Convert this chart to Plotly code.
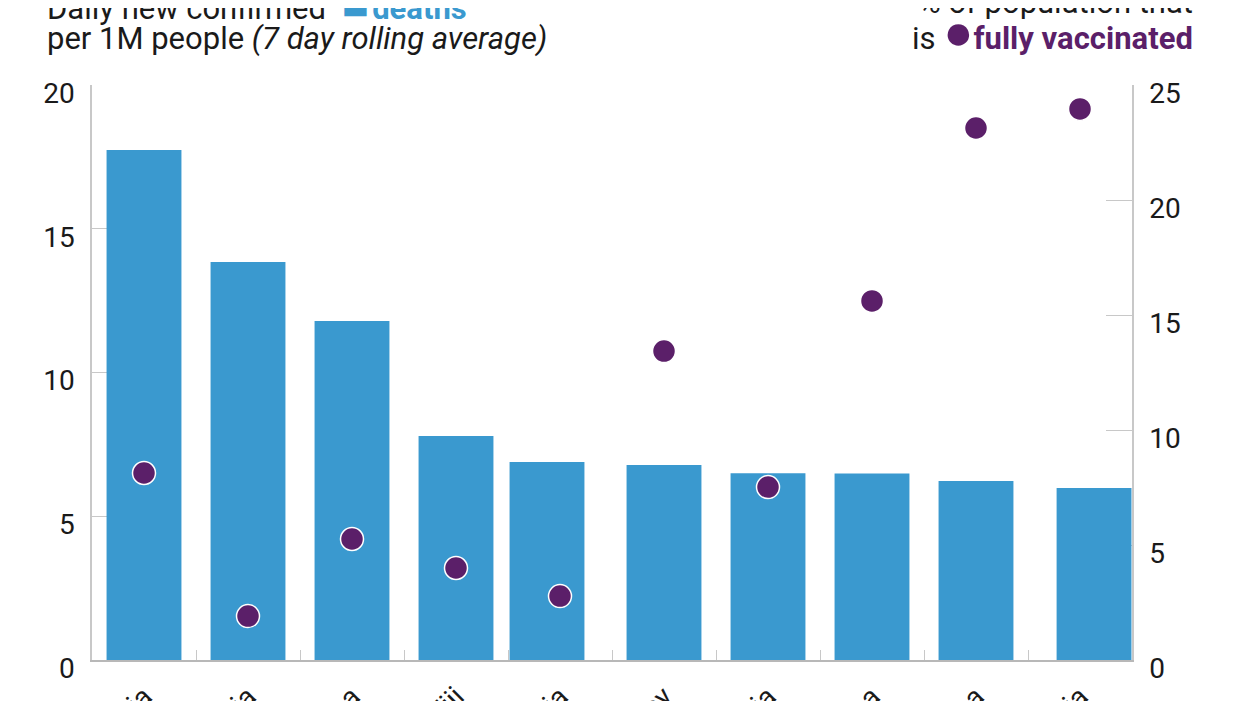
import plotly.graph_objects as go

# Values
countries = ["Tunisia", "Namibia", "Botswana", "Fiji", "Georgia",
             "Paraguay", "Indonesia", "Argentina", "Cuba", "Malaysia"]
deaths_per_million = [17.74, 13.84, 11.79, 7.79, 6.89, 6.78, 6.50, 6.49, 6.23, 5.98]
fully_vaccinated_pct = [8.13, 1.91, 5.26, 4.0, 2.78, 13.43, 7.52, 15.61, 23.13, 23.96]

BLUE = "#3a99cf"
PURPLE = "#5b1f69"
AXIS_GREY = "#c8c8c8"
FONT = "Roboto, 'Open Sans', sans-serif"

# bars 5 and 10 sit slightly off their category centre in the original
bar_width = 0.72
bar_offset = [-bar_width / 2] * len(countries)
bar_offset[4] -= 0.125
bar_offset[9] += 0.135

fig = go.Figure()

fig.add_trace(go.Bar(
    x=countries,
    y=deaths_per_million,
    width=bar_width,
    offset=bar_offset,
    marker=dict(color=BLUE, line=dict(width=0)),
    name="deaths",
))

fig.add_trace(go.Scatter(
    x=countries,
    y=fully_vaccinated_pct,
    yaxis="y2",
    mode="markers",
    marker=dict(color=PURPLE, size=23, line=dict(color="white", width=1.5)),
    name="fully vaccinated",
))

# the page body adds an 8px margin, so the plot box is shifted up/left by 8
fig.update_layout(
    width=1245,
    height=701,
    plot_bgcolor="white",
    paper_bgcolor="white",
    showlegend=False,
    font=dict(family=FONT, size=28, color="#1a1a1a"),
    margin=dict(l=84, r=121, t=77, b=49),
    xaxis=dict(
        type="category",
        range=[-0.5, len(countries) - 0.5],
        automargin=False,
        showgrid=False,
        showline=True,
        linecolor="#b8b8b8",
        linewidth=2,
        ticks="inside",
        tickson="boundaries",
        ticklen=10,
        tickcolor=AXIS_GREY,
        tickangle=-45,
        ticklabelstandoff=7,
        tickfont=dict(size=28),
        layer="below traces",
    ),
    yaxis=dict(
        range=[0, 20],
        dtick=5,
        automargin=False,
        showgrid=False,
        zeroline=False,
        showline=True,
        linecolor=AXIS_GREY,
        linewidth=1.5,
        ticks="inside",
        ticklen=27,
        tickcolor=AXIS_GREY,
        ticklabelstandoff=10,
        ticklabelshift=8,
        layer="below traces",
    ),
    yaxis2=dict(
        range=[0, 25],
        dtick=5,
        overlaying="y",
        side="right",
        automargin=False,
        showgrid=False,
        zeroline=False,
        showline=True,
        linecolor=AXIS_GREY,
        linewidth=1.5,
        ticks="inside",
        ticklen=26,
        tickcolor=AXIS_GREY,
        ticklabelstandoff=10,
        ticklabelshift=8,
        layer="below traces",
    ),
    bargap=0.28,
)

# Header texts, one annotation per line
left_x = (45 - 92) / 1040
right_x = (1195 - 92) / 1040


def py(px):
    """page pixel row -> paper y"""
    return 1 + (85 - px) / 575


header = [
    (left_x, py(3), "left",
     "Daily new confirmed  <span style='color:%s;font-size:46px'>■</span>"
     "<span style='font-size:12px'> </span>"
     "<b><span style='color:%s'>deaths</span></b>" % (BLUE, BLUE)),
    (left_x, py(39), "left", "per 1M people <i>(7 day rolling average)</i>"),
    (right_x, py(2), "right", "% of population that"),
    (right_x, py(32), "right",
     "is <span style='color:%s;font-size:50px'>●</span>"
     "<b><span style='color:%s'>fully vaccinated</span></b>" % (PURPLE, PURPLE)),
]
for x, y, anchor, txt in header:
    fig.add_annotation(
        x=x, y=y, xref="paper", yref="paper",
        xanchor=anchor, yanchor="middle",
        text=txt, showarrow=False,
        font=dict(family=FONT, size=31, color="#1a1a1a"),
    )

fig.write_html("out.html")
